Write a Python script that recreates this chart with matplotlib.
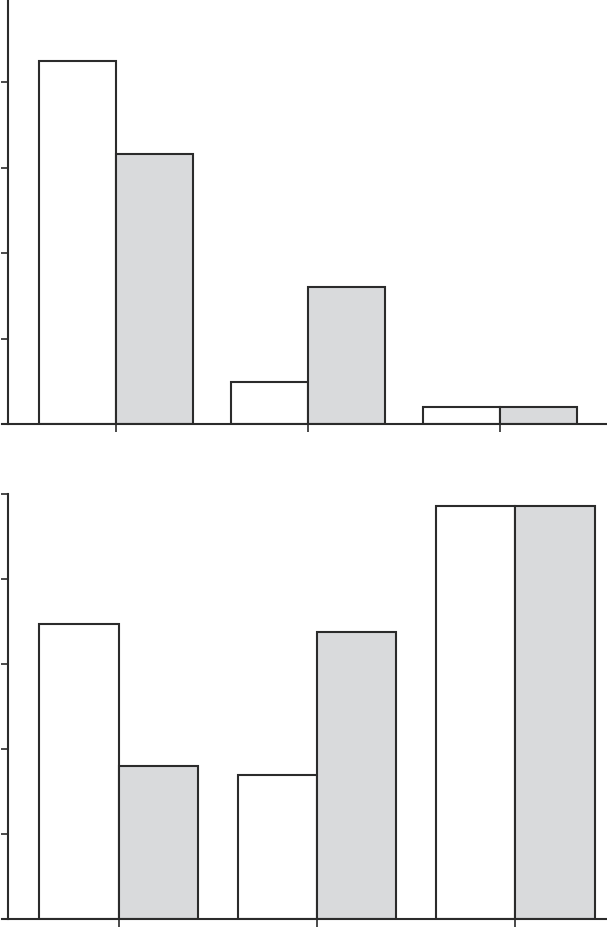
import numpy as np
import matplotlib
matplotlib.use("Agg")
import matplotlib.pyplot as plt

# ==========================================================
# Data (in tick units)
# ==========================================================

groups = ["1", "2", "3"]

top_white = [4.25, 0.49, 0.20]
top_gray = [3.16, 1.60, 0.20]

bottom_white = [3.47, 1.69, 4.86]
bottom_gray = [1.80, 3.38, 4.86]

y_ticks = [0, 1, 2, 3, 4, 5]

# ==========================================================
# Style
# ==========================================================

EDGE = "#2b2b2b"
FILL_GRAY = "#d9dadc"
WIDTH = 0.40
LW = 1.5

fig = plt.figure(figsize=(6.07, 9.29), dpi=100)

W, H = 607, 929


def make_axes(top_px, bottom_px):
    ax = fig.add_axes([2 / W, (H - bottom_px) / H, 605 / W, (bottom_px - top_px) / H])
    return ax


def draw_panel(ax, white, gray, xlim):

    x = np.arange(len(groups))

    ax.bar(x, white, width=-WIDTH, align="edge",
           color="white", edgecolor=EDGE, linewidth=LW, zorder=2)

    ax.bar(x, gray, width=WIDTH, align="edge",
           color=FILL_GRAY, edgecolor=EDGE, linewidth=LW, zorder=2)

    ax.set_xlim(*xlim)
    ax.set_ylim(0, 5)

    ax.set_xticks(x)
    ax.set_xticklabels([])
    ax.set_yticks(y_ticks)
    ax.set_yticklabels([])

    ax.spines["top"].set_visible(False)
    ax.spines["right"].set_visible(False)
    ax.spines["left"].set_position(("axes", 5.5 / 605))

    for side in ["left", "bottom"]:
        ax.spines[side].set_linewidth(LW)
        ax.spines[side].set_color(EDGE)
        ax.spines[side].set_zorder(3)

    ax.tick_params(axis="x", direction="out", length=6, width=1.2, color=EDGE)
    ax.tick_params(axis="y", direction="out", length=5, width=1.2, color=EDGE)

    ax.patch.set_alpha(0)


# ==========================================================
# Top panel
# ==========================================================

ax_top = make_axes(-2, 425)
draw_panel(ax_top, top_white, top_gray, (-0.594, 2.557))

# ==========================================================
# Bottom panel
# ==========================================================

ax_bottom = make_axes(495, 920)
draw_panel(ax_bottom, bottom_white, bottom_gray, (-0.587, 2.461))

fig.savefig("out.png", dpi=100)
